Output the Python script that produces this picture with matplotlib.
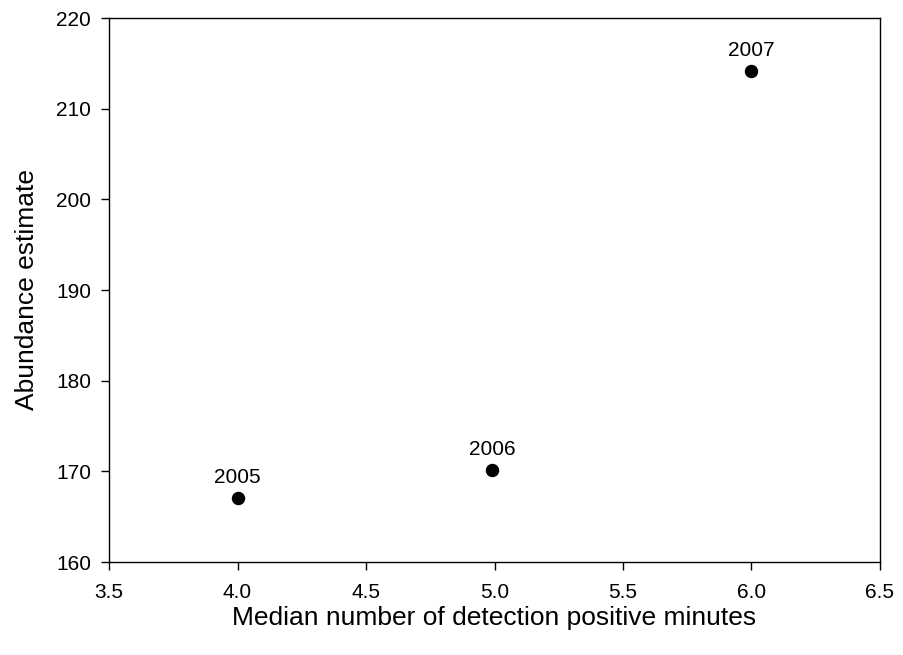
import matplotlib.pyplot as plt

plt.rcParams['font.family'] = ['Liberation Sans', 'DejaVu Sans']

years = ['2005', '2006', '2007']
median_dpm = [4.0, 4.99, 6.0]
abundance = [167.1, 170.1, 214.1]

fig = plt.figure(figsize=(9.04, 6.55), dpi=100)
ax = fig.add_axes([109 / 904, 1 - 562 / 655, (880 - 109) / 904, (562 - 18) / 655])

ax.scatter(median_dpm, abundance, s=75, color='black', zorder=3)
for yr, x, y in zip(years, median_dpm, abundance):
    ax.annotate(yr, (x, y), xytext=(0, 8), textcoords='offset points',
                ha='center', va='bottom', fontsize=15)

ax.set_xlim(3.5, 6.5)
ax.set_ylim(160, 220)
ax.set_xticks([3.5, 4.0, 4.5, 5.0, 5.5, 6.0, 6.5])
ax.set_xticklabels(['3.5', '4.0', '4.5', '5.0', '5.5', '6.0', '6.5'])
ax.set_yticks(range(160, 221, 10))
ax.tick_params(direction='out', length=6, width=1, labelsize=15)
ax.tick_params(axis='x', pad=9)
ax.tick_params(axis='y', pad=7)
for s in ax.spines.values():
    s.set_linewidth(1)

ax.set_xlabel('Median number of detection positive minutes', fontsize=19, labelpad=3)
ax.set_ylabel('Abundance estimate', fontsize=19, labelpad=12)

fig.savefig('out.png', dpi=100)
